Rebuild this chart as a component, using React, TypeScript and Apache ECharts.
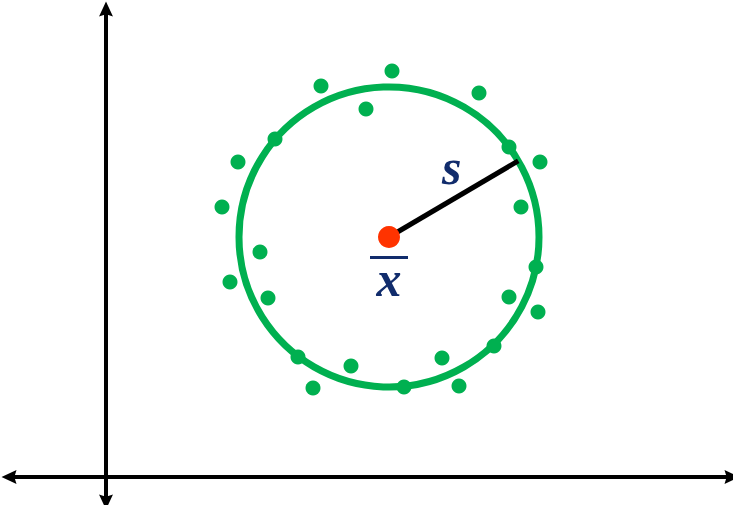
import React, { useEffect, useRef } from "react";
import * as echarts from "echarts";

// Sample points (x, y) in data units, origin at the axes' crossing
const pointsX = [215, 286, 260, 373, 169, 403, 434, 132, 116, 415, 154, 124, 430, 162, 403, 432, 192, 245, 207, 298, 336, 353, 388];
const pointsY = [391, 406, 368, 384, 338, 330, 315, 315, 270, 270, 225, 195, 210, 179, 180, 165, 120, 111, 89, 90, 119, 91, 131];
// Mean of the sample
const meanPoint = [283, 240];
// Standard deviation (radius) and direction of the s segment
const sRadius = 150;
const sAngleDeg = 30.5;
const labelS = "s";
const labelX = "x";

const GREEN = "#00B050";
const RED = "#FF3300";
const NAVY = "#112C6C";
const ARROW = "path://M6.5,0 L13,14 L6.5,12 L0,14 Z";

export default function App() {
  const ref = useRef<HTMLDivElement>(null);
  useEffect(() => {
    if (!ref.current) return;
    const chart = echarts.init(ref.current, undefined, { renderer: "svg" });
    const a = (sAngleDeg * Math.PI) / 180;
    const sEnd = [meanPoint[0] + sRadius * Math.cos(a), meanPoint[1] + sRadius * Math.sin(a)];
    const pts = pointsX.map((x, i) => [x, pointsY[i]]);
    const axisLine = {
      onZero: true,
      symbol: [ARROW, ARROW],
      symbolSize: [14, 15],
      lineStyle: { color: "#000", width: 4 },
    };
    const font = {
      fontFamily: "'Liberation Serif', 'Times New Roman', serif",
      fontStyle: "italic",
      fontWeight: "bold",
      fontSize: 50,
      color: NAVY,
    };
    chart.setOption({
      animation: false,
      grid: { left: 9, right: 1, top: 9, bottom: 3 },
      xAxis: {
        type: "value",
        min: -97,
        max: 626,
        axisLine,
        axisTick: { show: false },
        axisLabel: { show: false },
        splitLine: { show: false },
      },
      yAxis: {
        type: "value",
        min: -25,
        max: 468,
        axisLine,
        axisTick: { show: false },
        axisLabel: { show: false },
        splitLine: { show: false },
      },
      series: [
        {
          type: "custom",
          z: 2,
          data: [[meanPoint[0], meanPoint[1], sRadius]],
          renderItem: (params: any, api: any) => {
            const c = api.coord([api.value(0), api.value(1)]);
            const r = api.size([api.value(2), 0])[0];
            return {
              type: "circle",
              shape: { cx: c[0], cy: c[1], r },
              style: { fill: "none", stroke: GREEN, lineWidth: 7 },
            };
          },
        },
        {
          type: "scatter",
          z: 3,
          symbolSize: 15,
          itemStyle: { color: GREEN, opacity: 1 },
          data: pts,
        },
        {
          type: "line",
          z: 4,
          symbol: "none",
          lineStyle: { color: "#000", width: 5 },
          data: [meanPoint, sEnd],
          markPoint: {
            symbol: "circle",
            symbolSize: 1,
            itemStyle: { color: "transparent" },
            label: {
              show: true,
              formatter: labelS,
              ...font,
              offset: [-2, -32],
            },
            data: [
              {
                coord: [(meanPoint[0] + sEnd[0]) / 2, (meanPoint[1] + sEnd[1]) / 2],
              },
            ],
          },
        },
        {
          type: "scatter",
          z: 5,
          symbolSize: 22,
          itemStyle: { color: RED, opacity: 1 },
          data: [meanPoint],
          label: {
            show: true,
            position: "bottom",
            distance: 8,
            formatter: "{bar|}\n{x|" + labelX + "}",
            rich: {
              bar: {
                width: 38,
                height: 3,
                backgroundColor: NAVY,
              },
              x: {
                ...font,
                lineHeight: 40,
                align: "center",
              },
            },
            align: "center",
          },
        },
      ],
    });
    return () => chart.dispose();
  }, []);
  return (
    <div
      ref={ref}
      style={{ position: "fixed", left: 0, top: 0, width: 733, height: 505, background: "#fff" }}
    />
  );
}
